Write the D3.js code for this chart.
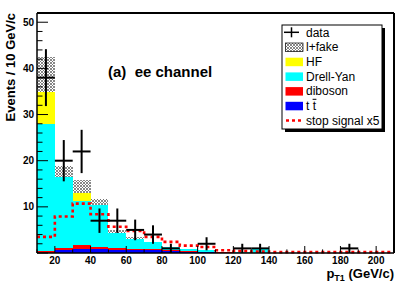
<!DOCTYPE html>
<html><head><meta charset="utf-8">
<script src="https://cdn.jsdelivr.net/npm/d3@7"></script>
<style>body{margin:0;background:#fff}svg{display:block}</style>
</head><body><svg id="c" width="415" height="282"></svg>
<script>
// ---- data ----
const binLow   = [10,20,30,40,50,60,70,80,90,100,110,120,130,140,150,160,170,180,190,200];
const binWidth = 10;
const ttbar    = [0.1,0.6,0.8,0.8,0.7,0.6,0.6,0.5,0.3,0.2,0.1,0.05,0.05,0,0,0,0,0,0,0];
const diboson  = [0.25,0.45,0.9,0.6,0.4,0.3,0.25,0.15,0.1,0.1,0.05,0,0,0,0,0,0,0,0,0];
const drellYan = [27.55,15.45,9.6,8.9,3.3,2.1,1.55,0.55,0.45,0.4,0.15,0.25,0.75,0.05,0.05,0.05,0.05,0.05,0.05,0.05];
const hf       = [7.0,0,1.8,0.1,0,0,0,0,0,0,0,0,0,0,0,0,0,0,0,0];
const fake     = [7.5,2.3,2.7,1.4,0.6,0.4,0,0,0,0,0,0,0,0,0,0,0,0,0,0];
const signal   = [3.5,7.9,10.7,8.4,5.7,4.8,3.5,2.4,1.6,1.3,0.6,0.4,0.3,0.2,0.2,0.2,0.2,0.2,0.2,0.2];
const dataObs  = [38,20,22,7,7,5,4,1,0,2,0,1,1,0,0,0,0,1,0,0];
const xTicks   = [20,40,60,80,100,120,140,160,180,200];
const yTicks   = [10,20,30,40,50];

const legendLabels = ["data","l+fake","HF","Drell-Yan","diboson","t t","stop signal x5"];

// ---- layout ----
const svg = d3.select("#c");
const L=37, R=394, T=13, B=253;
const x = d3.scaleLinear().domain([10,210]).range([L,R]);
const y = d3.scaleLinear().domain([0,52]).range([B,T]);
const font = "'Liberation Sans', Arial, Helvetica, sans-serif";

// hatch pattern
const defs = svg.append("defs");
const pat = defs.append("pattern").attr("id","hatch").attr("patternUnits","userSpaceOnUse")
  .attr("width",3).attr("height",3);
pat.append("rect").attr("width",3).attr("height",3).attr("fill","#fff");
pat.append("path").attr("d","M0,0L3,3M3,0L0,3").attr("stroke","#6a6a6a").attr("stroke-width",0.8);

// ---- stack ----
const keys = ["ttbar","diboson","dy","hf","fake"];
const colors = {ttbar:"#0000ff", diboson:"#ff0000", dy:"#00ffff", hf:"#ffff00", fake:"url(#hatch)"};
const rows = binLow.map((b,i)=>({low:b, ttbar:ttbar[i], diboson:diboson[i], dy:drellYan[i], hf:hf[i], fake:fake[i]}));
const stack = d3.stack().keys(keys)(rows);

const gStack = svg.append("g");
stack.forEach(layer=>{
  gStack.selectAll(null).data(layer.filter(d=>d[1]-d[0]>0)).enter().append("rect")
    .attr("x", d=>x(d.data.low))
    .attr("width", d=>x(d.data.low+binWidth)-x(d.data.low))
    .attr("y", d=>y(d[1]))
    .attr("height", d=>y(d[0])-y(d[1]))
    .attr("fill", colors[layer.key])
    .attr("shape-rendering","crispEdges");
});

// ---- signal step line ----
const sigPts = binLow.map((b,i)=>[b, signal[i]]);
sigPts.push([binLow[binLow.length-1]+binWidth, signal[signal.length-1]]);
svg.append("path")
  .attr("d", d3.line().x(d=>x(d[0])).y(d=>y(d[1])).curve(d3.curveStepAfter)(sigPts))
  .attr("fill","none").attr("stroke","#ff0000").attr("stroke-width",2.6)
  .attr("stroke-dasharray","3,3");

// ---- axes frame ----
const gAx = svg.append("g").attr("stroke","#000");
gAx.append("line").attr("x1",L).attr("x2",R).attr("y1",T).attr("y2",T).attr("stroke-width",2);
gAx.append("line").attr("x1",R).attr("x2",R).attr("y1",T).attr("y2",B).attr("stroke-width",2);
gAx.append("line").attr("x1",L).attr("x2",L).attr("y1",T).attr("y2",B).attr("stroke-width",1.5);
gAx.append("line").attr("x1",L).attr("x2",R).attr("y1",B).attr("y2",B).attr("stroke-width",1.5);

// y ticks
const yMinor = d3.range(0,52,2);
yMinor.forEach(v=>{
  const major = v%10===0;
  gAx.append("line").attr("x1",L).attr("x2",L+(major?11:5.5)).attr("y1",y(v)).attr("y2",y(v)).attr("stroke-width",1);
});
// x ticks
const xMinor = d3.range(10,211,10);
xMinor.forEach(v=>{
  const major = v%20===0;
  gAx.append("line").attr("y1",B).attr("y2",B-(major?7:3.6)).attr("x1",x(v)).attr("x2",x(v)).attr("stroke-width",1);
});

// tick labels
svg.selectAll(".yl").data(yTicks).enter().append("text")
  .attr("x",L-3).attr("y",d=>y(d)+3.5).attr("text-anchor","end")
  .attr("font-family",font).attr("font-weight","bold").attr("font-size",10).text(d=>d);
svg.selectAll(".xl").data(xTicks).enter().append("text")
  .attr("x",d=>x(d)).attr("y",264).attr("text-anchor","middle")
  .attr("font-family",font).attr("font-weight","bold").attr("font-size",10).text(d=>d);

// axis titles
svg.append("text").attr("transform","translate(15,13) rotate(-90)").attr("text-anchor","end")
  .attr("font-family",font).attr("font-weight","bold").attr("font-size",13).text("Events / 10 GeV/c");
const xt = svg.append("text").attr("x",394).attr("y",277.5).attr("text-anchor","end")
  .attr("font-family",font).attr("font-weight","bold").attr("font-size",13);
xt.append("tspan").text("p");
xt.append("tspan").attr("font-size",9).attr("dy",3).text("T1");
xt.append("tspan").attr("dy",-3).text(" (GeV/c)");

// title text
svg.append("text").attr("x",108).attr("y",77).attr("font-family",font).attr("font-weight","bold")
  .attr("font-size",15).attr("xml:space","preserve").text("(a)  ee channel");

// ---- data points ----
const gData = svg.append("g").attr("stroke","#000").attr("stroke-width",2);
binLow.forEach((b,i)=>{
  const n = dataObs[i];
  if(n<=0) return;
  const e = Math.sqrt(n);
  const cx = x(b+binWidth/2);
  gData.append("line").attr("x1",x(b)).attr("x2",x(b+binWidth)).attr("y1",y(n)).attr("y2",y(n));
  gData.append("line").attr("x1",cx).attr("x2",cx).attr("y1",y(n+e)).attr("y2",y(Math.max(0,n-e)));
});

// ---- legend ----
const lg = svg.append("g");
const LX=282, LY=25, LW=100, LH=104;
lg.append("rect").attr("x",LX+3).attr("y",LY+3).attr("width",LW).attr("height",LH).attr("fill","#000");
lg.append("rect").attr("x",LX).attr("y",LY).attr("width",LW).attr("height",LH).attr("fill","#fff").attr("stroke","#000").attr("stroke-width",1);
const swFill = [null,"url(#hatch)","#ffff00","#00ffff","#ff0000","#0000ff",null];
legendLabels.forEach((lab,i)=>{
  const cy = 32.3 + i*14.7;
  if(i===0){
    lg.append("line").attr("x1",284).attr("x2",299).attr("y1",cy).attr("y2",cy).attr("stroke","#000").attr("stroke-width",1.5);
    lg.append("line").attr("x1",291.5).attr("x2",291.5).attr("y1",cy-5).attr("y2",cy+5).attr("stroke","#000").attr("stroke-width",1.5);
  } else if(i===6){
    lg.append("line").attr("x1",286).attr("x2",302).attr("y1",cy).attr("y2",cy).attr("stroke","#ff0000").attr("stroke-width",2.5).attr("stroke-dasharray","3,3");
  } else {
    lg.append("rect").attr("x",285.5).attr("y",cy-4).attr("width",17.5).attr("height",8.5)
      .attr("fill",swFill[i]).attr("stroke",i===1?"#000":"none").attr("stroke-width",0.7);
  }
  lg.append("text").attr("x",306).attr("y",cy+4.2).attr("font-family",font).attr("font-size",12).text(lab);
  if(i===5){
    lg.append("line").attr("x1",312.6).attr("x2",316.4).attr("y1",cy-6.5).attr("y2",cy-6.5).attr("stroke","#000").attr("stroke-width",1);
  }
});
</script>
</body></html>
